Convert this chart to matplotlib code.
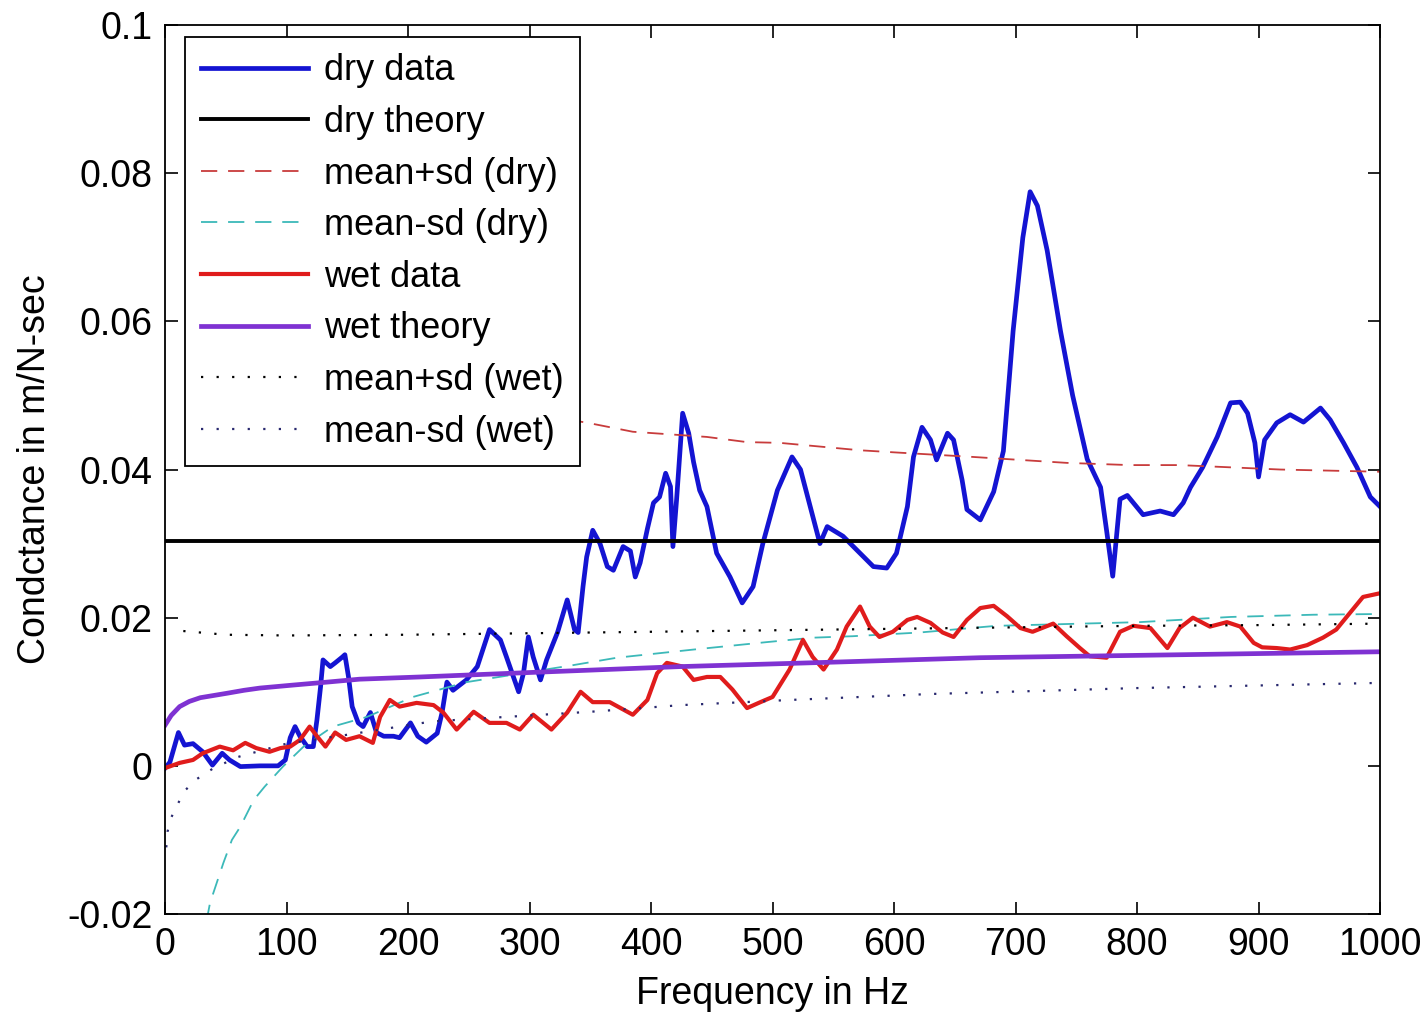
import numpy as np
import matplotlib
matplotlib.use("Agg")
import matplotlib.pyplot as plt

plt.rcParams['font.family'] = ['Liberation Sans Narrow', 'Liberation Sans', 'DejaVu Sans']

# dry data (blue)
dry_f = [0, 4, 11, 16, 23, 31, 39, 47, 53, 62, 78, 93, 99, 103, 107, 111, 117, 122, 125, 128,
         130, 136, 140, 146, 148, 151, 154, 159, 163, 169, 174, 180, 188, 193, 202, 208, 215, 224,
         228, 232, 237, 248, 257, 267, 276, 281, 291, 295, 299, 303, 309, 314, 323, 331, 337, 340,
         344, 347, 352, 358, 364, 369, 377, 383, 387, 391, 397, 402, 407, 412, 416, 418, 421, 426,
         431, 435, 440, 446, 454, 465, 475, 484, 492, 504, 516, 523, 531, 539, 545, 558, 572, 583,
         594, 602, 611, 616, 623, 630, 635, 644, 649, 656, 660, 671, 682, 690, 698, 706, 712, 718,
         726, 737, 747, 759, 770, 775, 780, 786, 792, 805, 819, 830, 838, 844, 854, 866, 877, 885,
         891, 897, 900, 905, 915, 926, 937, 951, 959, 970, 981, 992, 1000]
dry_y = [-0.0003, 0.0005, 0.0045, 0.0028, 0.0030, 0.0019, 0.0001, 0.0017, 0.0008, -0.0001, 0.0000,
         0.0000, 0.0008, 0.0038, 0.0053, 0.0040, 0.0026, 0.0026, 0.0062, 0.0107,
         0.0143, 0.0134, 0.0139, 0.0147, 0.0150, 0.0120, 0.0080, 0.0058, 0.0053, 0.0072, 0.0045,
         0.0040, 0.0040, 0.0038, 0.0058, 0.0040, 0.0032, 0.0044,
         0.0072, 0.0113, 0.0102, 0.0116, 0.0134, 0.0184, 0.0170, 0.0147, 0.0100, 0.0125, 0.0174,
         0.0147, 0.0116, 0.0143, 0.0180, 0.0224, 0.0184, 0.0180,
         0.0242, 0.0282, 0.0318, 0.0300, 0.0269, 0.0264, 0.0296, 0.0290, 0.0255, 0.0274, 0.0320,
         0.0355, 0.0363, 0.0395, 0.0377, 0.0296, 0.0359, 0.0476,
         0.0449, 0.0410, 0.0372, 0.0350, 0.0287, 0.0255, 0.0220, 0.0242, 0.0300, 0.0372, 0.0417,
         0.0400, 0.0350, 0.0300, 0.0323, 0.0310, 0.0287, 0.0269,
         0.0267, 0.0287, 0.0350, 0.0417, 0.0457, 0.0440, 0.0413, 0.0449, 0.0440, 0.0386, 0.0346,
         0.0332, 0.0370, 0.0425, 0.0587, 0.0713, 0.0775, 0.0756,
         0.0696, 0.0587, 0.0500, 0.0414, 0.0376, 0.0317, 0.0256, 0.0360, 0.0365, 0.0339, 0.0344,
         0.0339, 0.0355, 0.0376, 0.0403, 0.0444, 0.0490, 0.0491,
         0.0476, 0.0436, 0.0390, 0.0440, 0.0463, 0.0474, 0.0464, 0.0483, 0.0467, 0.0436, 0.0403,
         0.0363, 0.0350]

# dry theory (black)
dry_theory_f = [0, 1000]
dry_theory_y = [0.0304, 0.0304]

# mean+sd (dry), red dashed
dps_f = [20, 50, 100, 150, 200, 250, 300, 348, 385, 446, 479, 506, 539, 572, 602, 665, 742,
         794, 835, 918, 1000]
dps_y = [0.097, 0.073, 0.060, 0.055, 0.0515, 0.049, 0.0476, 0.0463, 0.0451, 0.0444, 0.0437,
         0.0436, 0.0431, 0.0426, 0.0423, 0.0417, 0.0409, 0.0406, 0.0406, 0.0400, 0.0397]

# mean-sd (dry), cyan dashed
dms_f = [30, 37, 48, 55, 62, 73, 82, 97, 114, 138, 166, 204, 248, 336, 372, 435, 495, 533, 566,
         621, 684, 802, 877, 945, 1000]
dms_y = [-0.0245, -0.0185, -0.0131, -0.0100, -0.0082, -0.0046, -0.0028, -0.0001, 0.0026, 0.0053,
         0.0066, 0.0093, 0.0113, 0.0136, 0.0146, 0.0157, 0.0167, 0.0173, 0.0175, 0.0180, 0.0189,
         0.0194, 0.0201, 0.0204, 0.0205]

# wet data (red)
wet_f = [0, 12, 23, 31, 45, 56, 66, 75, 86, 95, 103, 111, 119, 125, 132, 140, 149, 160, 171, 177,
         185, 193, 207, 221, 229, 240, 254, 267, 281, 292, 303, 318, 331, 342, 352, 366, 385, 397,
         405, 413, 426, 435, 446, 457, 467, 479, 490, 500, 514, 525, 533, 542, 553, 561, 572, 580,
         588, 599, 611, 619, 630, 640, 649, 660, 671, 682, 693, 704, 714, 731, 742, 753, 761, 775,
         786, 797, 811, 825, 835, 846, 860, 874, 885, 896, 903, 915, 926, 940, 953, 964, 975, 986,
         1000]
wet_y = [-0.0003, 0.0004, 0.0008, 0.0017, 0.0026, 0.0021, 0.0031, 0.0024, 0.0019, 0.0024, 0.0026,
         0.0035, 0.0053, 0.0040, 0.0026, 0.0045, 0.0035, 0.0040, 0.0031, 0.0066,
         0.0089, 0.0080, 0.0085, 0.0082, 0.0072, 0.0049, 0.0073, 0.0058, 0.0058, 0.0049, 0.0069,
         0.0049, 0.0072, 0.0100, 0.0086, 0.0086, 0.0069, 0.0089,
         0.0125, 0.0139, 0.0134, 0.0116, 0.0120, 0.0120, 0.0103, 0.0078, 0.0086, 0.0093, 0.0130,
         0.0170, 0.0147, 0.0130, 0.0157, 0.0188, 0.0215, 0.0188,
         0.0174, 0.0181, 0.0197, 0.0201, 0.0193, 0.0180, 0.0174, 0.0197, 0.0213, 0.0216, 0.0202,
         0.0186, 0.0181, 0.0192, 0.0175, 0.0159, 0.0148, 0.0146,
         0.0181, 0.0189, 0.0186, 0.0159, 0.0186, 0.0200, 0.0188, 0.0194, 0.0188, 0.0166, 0.0160,
         0.0159, 0.0157, 0.0163, 0.0173, 0.0184, 0.0206, 0.0228,
         0.0233]

# wet theory (purple)
wt_f = [0, 5, 12, 20, 29, 40, 51, 65, 78, 105, 133, 160, 210, 300, 424, 550, 671, 835, 1000]
wt_y = [0.0055, 0.0068, 0.0080, 0.0087, 0.0092, 0.0095, 0.0098, 0.0102, 0.0105, 0.0109, 0.0113,
        0.0117, 0.0120, 0.0126, 0.0134, 0.0140, 0.0146, 0.0150, 0.0154]

# mean+sd (wet), black dotted
wps_f = [15, 50, 100, 200, 300, 400, 500, 600, 700, 800, 900, 1000]
wps_y = [0.0182, 0.0177, 0.0176, 0.0177, 0.0179, 0.0181, 0.0183, 0.0185, 0.0187, 0.0189, 0.0190,
         0.0192]

# mean-sd (wet), navy dotted
wms_f = [1, 2, 5, 10, 16, 25, 40, 60, 100, 150, 185, 220, 300, 350, 425, 515, 630, 800, 1000]
wms_y = [-0.011, -0.0089, -0.007, -0.0053, -0.0034, -0.0019, -0.0003, 0.0012, 0.0030, 0.0042,
         0.0051, 0.0060, 0.0068, 0.0073, 0.0082, 0.0089, 0.0097, 0.0105, 0.0112]

fig = plt.figure(figsize=(14.23, 10.14), dpi=100)
ax = fig.add_axes([0.116, 0.0986, 0.8538, 0.8767])

ax.plot(dry_f, dry_y, color='#1414d2', lw=3.4, label='dry data')
ax.plot(dry_theory_f, dry_theory_y, color='black', lw=2.8, label='dry theory')
ax.plot(dps_f, dps_y, color='#c83c3c', lw=1.3, dashes=(9, 6), label='mean+sd (dry)')
ax.plot(dms_f, dms_y, color='#3cb9b9', lw=1.3, dashes=(9, 6), label='mean-sd (dry)')
ax.plot(wet_f, wet_y, color='#e01c1c', lw=3.0, label='wet data')
ax.plot(wt_f, wt_y, color='#7f32d2', lw=3.4, label='wet theory')
ax.plot(wps_f, wps_y, color='black', lw=1.6, dashes=(1, 6), label='mean+sd (wet)')
ax.plot(wms_f, wms_y, color='#28286e', lw=1.6, dashes=(1, 6), label='mean-sd (wet)')

ax.set_xlim(0, 1000)
ax.set_ylim(-0.02, 0.1)
ax.set_xticks(np.arange(0, 1001, 100))
ax.set_yticks([-0.02, 0, 0.02, 0.04, 0.06, 0.08, 0.1])
ax.set_yticklabels(['-0.02', '0', '0.02', '0.04', '0.06', '0.08', '0.1'])
ax.tick_params(direction='in', top=True, right=True, length=9, width=1.2,
               labelsize=27, pad=9)
for s in ax.spines.values():
    s.set_linewidth(1.3)

ax.set_xlabel('Frequency in Hz', fontsize=27, labelpad=10)
ax.set_ylabel('Condctance in m/N-sec', fontsize=27, labelpad=10)

leg = ax.legend(loc='upper left', bbox_to_anchor=(0.0165, 0.9865), borderaxespad=0,
                fontsize=26, handlelength=2.95, handletextpad=0.45, labelspacing=0.46,
                borderpad=0.45, fancybox=False, framealpha=1, edgecolor='black')
leg.get_frame().set_linewidth(1.3)

fig.savefig('out.png', dpi=100)
